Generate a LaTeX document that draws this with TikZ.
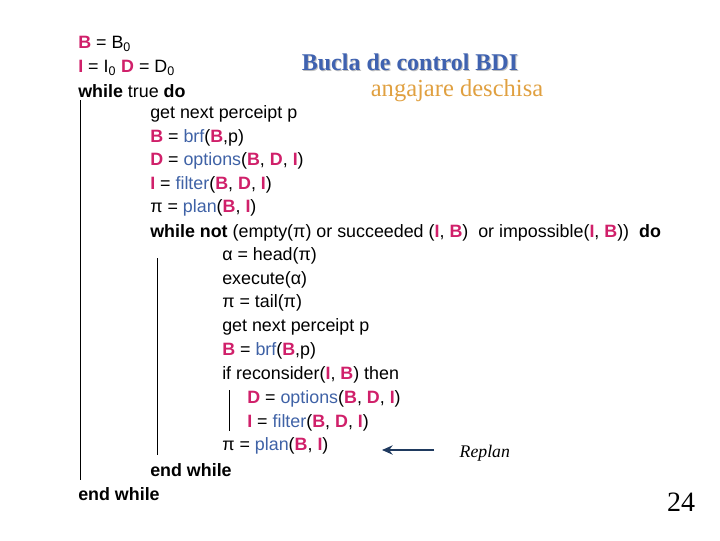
\documentclass[tikz,border=0pt]{standalone}
\usepackage{fontspec}
\usetikzlibrary{arrows.meta}
\setmainfont{Liberation Sans}
\newfontfamily\serifT{Liberation Serif}
\definecolor{mag}{HTML}{D0206A}
\definecolor{fn}{HTML}{3F62A6}
\definecolor{ttl}{HTML}{3F62B0}
\definecolor{org}{HTML}{E0A040}
\definecolor{nav}{HTML}{1F3A5F}
\newcommand{\vB}{\textbf{\textcolor{mag}{B}}}
\newcommand{\vD}{\textbf{\textcolor{mag}{D}}}
\newcommand{\vI}{\textbf{\textcolor{mag}{I}}}
\newcommand{\fn}[1]{\textcolor{fn}{#1}}
\begin{document}
\begin{tikzpicture}[x=0.75pt,y=-0.75pt,
  ln/.style={anchor=west,inner sep=0pt,font=\fontsize{13.4}{15}\selectfont},
  bar/.style={line width=0.7pt}]
\useasboundingbox (0,0) rectangle (720,540);
\node[ln] (l1) at (78,44) {\vB{} = B\textsubscript{0}};
\node[ln] (l2) at (78,68) {\vI{} = I\textsubscript{0} \vD{} = D\textsubscript{0}};
\node[ln] (l3) at (78,91) {\textbf{while} true \textbf{do}};
\node[ln] (l4) at (150,114) {get next perceipt p};
\node[ln] (l5) at (150,138) {\vB{} = \fn{brf}(\vB,p)};
\node[ln] (l6) at (150,161) {\vD{} = \fn{options}(\vB, \vD, \vI)};
\node[ln] (l7) at (150,185) {\vI{} = \fn{filter}(\vB, \vD, \vI)};
\node[ln] (l8) at (150,208) {π = \fn{plan}(\vB, \vI)};
\node[ln] (l9) at (150,233) {\textbf{while not} (empty(π) or succeeded (\vI, \vB)\ \ or impossible(\vI, \vB))\ \ \textbf{do}};
\node[ln] (l10) at (222,256) {α = head(π)};
\node[ln] (l11) at (222,280) {execute(α)};
\node[ln] (l12) at (222,303) {π = tail(π)};
\node[ln] (l13) at (222,327) {get next perceipt p};
\node[ln] (l14) at (222,351) {\vB{} = \fn{brf}(\vB,p)};
\node[ln] (l15) at (222,375) {if reconsider(\vI, \vB) then};
\node[ln] (l16) at (247,399) {\vD{} = \fn{options}(\vB, \vD, \vI)};
\node[ln] (l17) at (247,423) {\vI{} = \fn{filter}(\vB, \vD, \vI)};
\node[ln] (l18) at (222,446) {π = \fn{plan}(\vB, \vI)};
\node[ln] (l19) at (150,470) {\textbf{end while}};
\node[ln] (l20) at (78,494) {\textbf{end while}};
\draw[bar] (80,100) -- (80,480);
\draw[bar] (157,258) -- (157,455);
\draw[bar] (229,390) -- (229,431);
\node[font=\serifT\bfseries\fontsize{18}{20}\selectfont,text=gray!50] at (411,63) {Bucla de control BDI};
\node[font=\serifT\bfseries\fontsize{18}{20}\selectfont,text=ttl] (t1) at (410,62) {Bucla de control BDI};
\node[font=\serifT\fontsize{18.4}{20}\selectfont,text=org] (t2) at (457,91) {angajare deschisa};
\node[font=\serifT\itshape\fontsize{13.3}{15}\selectfont,anchor=west] (rp) at (455,453) {Replan};
\draw[nav,line width=1pt,-{Stealth[length=8pt,width=7pt]}] (rp.west)++(-21,-3) coordinate (a0) -- (382,450) coordinate (a1);
\node[font=\serifT\fontsize{21}{23}\selectfont] (pg) at (681,502) {24};
\end{tikzpicture}
\end{document}
